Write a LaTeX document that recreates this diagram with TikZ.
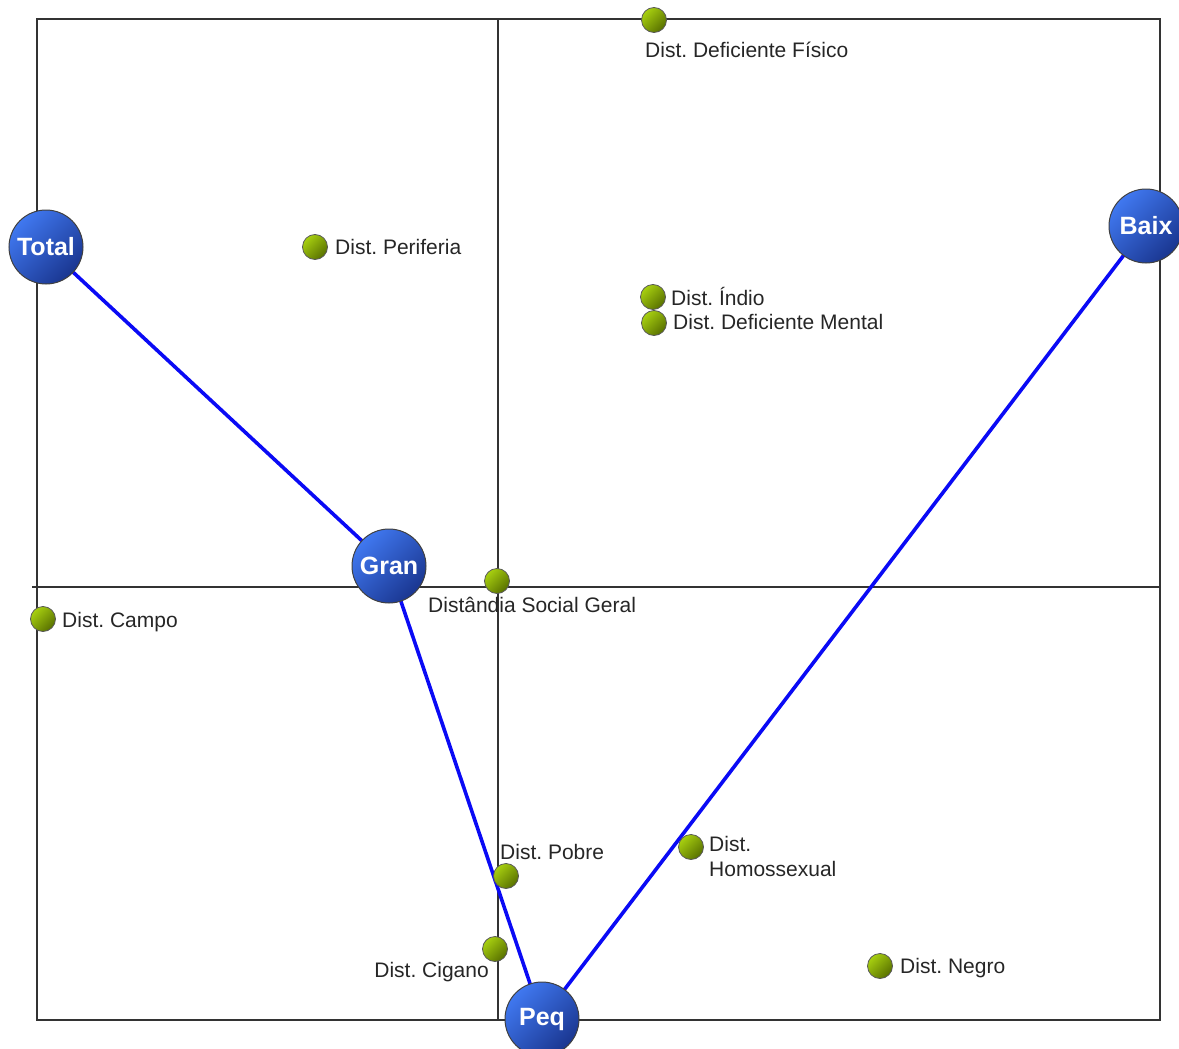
\documentclass[tikz,border=0pt]{standalone}
\usepackage{fontspec}
\setmainfont{Liberation Sans}
\frenchspacing
\definecolor{bluelight}{HTML}{4078F0}
\definecolor{bluedark}{HTML}{1A3690}
\definecolor{greenlight}{HTML}{A8D010}
\definecolor{greendark}{HTML}{587000}
\definecolor{linkblue}{HTML}{0A0AF5}
\definecolor{axisgray}{HTML}{333333}
\tikzset{
  bignode/.style={circle, minimum size=74pt, inner sep=0pt, draw=black!75, line width=1pt,
    top color=bluelight, bottom color=bluedark, shading angle=45,
    text=white, font=\fontsize{25}{25}\selectfont\bfseries},
  dotnode/.style={circle, minimum size=25pt, inner sep=0pt, draw=black!65, line width=0.8pt,
    top color=greenlight, bottom color=greendark, shading angle=45},
  lbl/.style={font=\fontsize{21}{24}\selectfont, text=black!85, inner sep=0pt},
  axisline/.style={draw=axisgray, line width=1.4pt},
  link/.style={draw=linkblue, line width=3.6pt}
}
\begin{document}
\begin{tikzpicture}[x=1pt, y=-1pt]
\useasboundingbox (0,0) rectangle (1179,1049);
% frame and axes
\coordinate (fTL) at (37,19);
\coordinate (fBR) at (1160,1020);
\coordinate (hL) at (32,587);
\coordinate (hR) at (1160,587);
\coordinate (vT) at (498,19);
\coordinate (vB) at (498,1020);
\draw[axisline] (fTL) rectangle (fBR);
\draw[axisline] (hL) -- (hR);
\draw[axisline] (vT) -- (vB);
% big nodes (positions)
\coordinate (cTotal) at (46,247);
\coordinate (cGran) at (389,566);
\coordinate (cBaix) at (1146,226);
\coordinate (cPeq) at (542,1019);
\draw[link] (cTotal) -- (cGran);
\draw[link] (cGran) -- (cPeq);
\draw[link] (cPeq) -- (cBaix);
% dots
\node[dotnode] (fisico) at (654,20) {};
\node[dotnode] (periferia) at (315,247) {};
\node[dotnode] (indio) at (653,297) {};
\node[dotnode] (mental) at (654,323) {};
\node[dotnode] (geral) at (497,581) {};
\node[dotnode] (campo) at (43,619) {};
\node[dotnode] (pobre) at (506,876) {};
\node[dotnode] (cigano) at (495,949) {};
\node[dotnode] (homo) at (691,847) {};
\node[dotnode] (negro) at (880,966) {};
% labels
\node[lbl, anchor=base west] (lfisico) at (645,57.5) {Dist. Deficiente Físico};
\node[lbl, anchor=base west] (lperiferia) at (335,254.5) {Dist. Periferia};
\node[lbl, anchor=base west] (lindio) at (671,305.5) {Dist. Índio};
\node[lbl, anchor=base west] (lmental) at (673,329.5) {Dist. Deficiente Mental};
\node[lbl, anchor=base west] (lgeral) at (428,612.5) {Distândia Social Geral};
\node[lbl, anchor=base west] (lcampo) at (62,627.5) {Dist. Campo};
\node[lbl, anchor=base west] (lpobre) at (500,859.5) {Dist. Pobre};
\node[lbl, anchor=base east] (lcigano) at (489,977.5) {Dist. Cigano};
\node[lbl, anchor=base west] (lhomo1) at (709,851.5) {Dist.};
\node[lbl, anchor=base west] (lhomo2) at (709,876.5) {Homossexual};
\node[lbl, anchor=base west] (lnegro) at (900,973.5) {Dist. Negro};
% big nodes
\node[bignode] (total) at (cTotal) {Total};
\node[bignode] (gran) at (cGran) {Gran};
\node[bignode] (baix) at (cBaix) {Baix};
\node[bignode] (peq) at (cPeq) {Peq};
\end{tikzpicture}
\end{document}
